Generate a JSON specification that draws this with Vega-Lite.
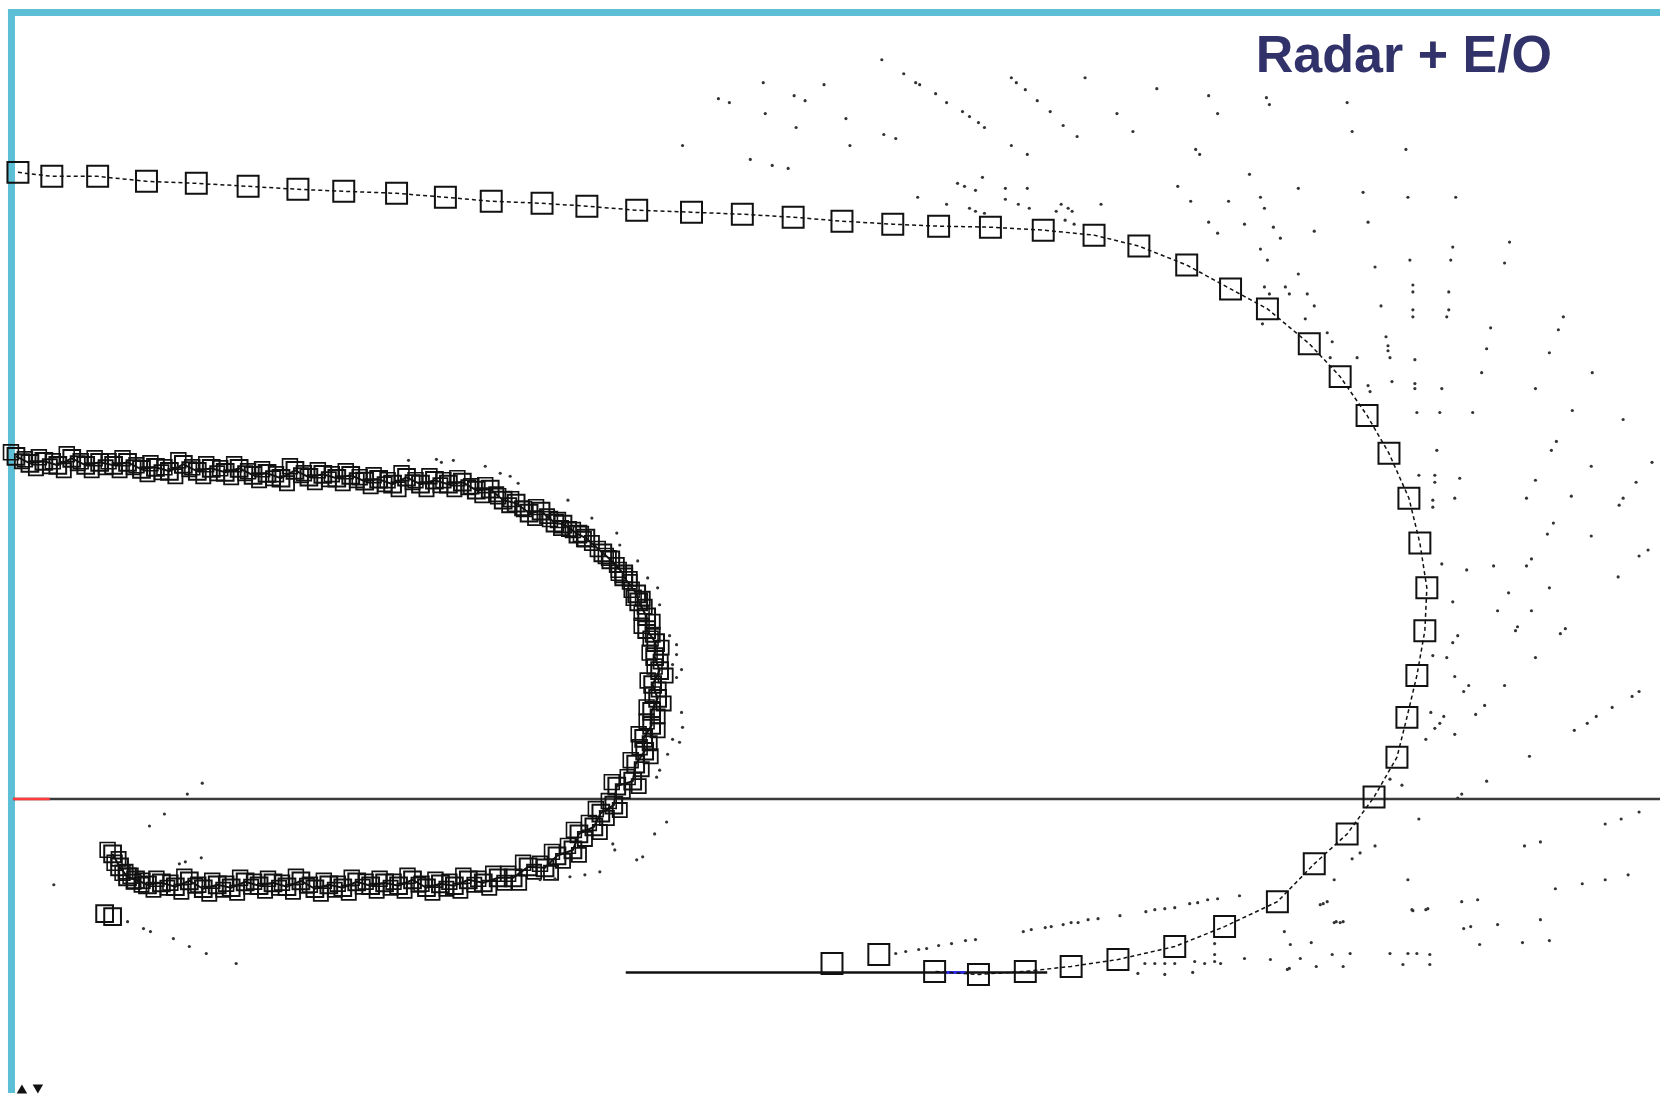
{
  "$schema": "https://vega.github.io/schema/vega-lite/v6.json",
  "width": 1664,
  "height": 1097,
  "autosize": {"type": "fit", "contains": "padding"},
  "padding": 0,
  "background": "white",
  "config": {"view": {"stroke": null}},
  "datasets": {
    "lines": [
      {"part": "baseline", "x": 11, "x2": 1664, "y": 802},
      {"part": "baseline start", "x": 11, "x2": 48, "y": 802},
      {"part": "E/O line", "x": 626, "x2": 1049, "y": 976},
      {"part": "E/O gap", "x": 947, "x2": 967, "y": 976}
    ],
    "outer": [
      {"i": 1, "x": 16, "y": 173}, {"i": 2, "x": 50, "y": 177}, {"i": 3, "x": 96, "y": 177},
      {"i": 4, "x": 145, "y": 182}, {"i": 5, "x": 195, "y": 184}, {"i": 6, "x": 247, "y": 187},
      {"i": 7, "x": 297, "y": 190}, {"i": 8, "x": 343, "y": 192}, {"i": 9, "x": 396, "y": 194},
      {"i": 10, "x": 445, "y": 198}, {"i": 11, "x": 491, "y": 202}, {"i": 12, "x": 542, "y": 204},
      {"i": 13, "x": 587, "y": 207}, {"i": 14, "x": 637, "y": 211}, {"i": 15, "x": 692, "y": 213},
      {"i": 16, "x": 743, "y": 215}, {"i": 17, "x": 794, "y": 218}, {"i": 18, "x": 843, "y": 222},
      {"i": 19, "x": 894, "y": 225}, {"i": 20, "x": 940, "y": 227}, {"i": 21, "x": 992, "y": 228},
      {"i": 22, "x": 1045, "y": 231}, {"i": 23, "x": 1096, "y": 236}, {"i": 24, "x": 1141, "y": 247},
      {"i": 25, "x": 1189, "y": 266}, {"i": 26, "x": 1233, "y": 290}, {"i": 27, "x": 1270, "y": 310},
      {"i": 28, "x": 1312, "y": 345}, {"i": 29, "x": 1343, "y": 378}, {"i": 30, "x": 1370, "y": 417},
      {"i": 31, "x": 1392, "y": 455}, {"i": 32, "x": 1412, "y": 500}, {"i": 33, "x": 1423, "y": 545},
      {"i": 34, "x": 1430, "y": 590}, {"i": 35, "x": 1428, "y": 633}, {"i": 36, "x": 1420, "y": 678},
      {"i": 37, "x": 1410, "y": 720}, {"i": 38, "x": 1400, "y": 760}, {"i": 39, "x": 1377, "y": 800},
      {"i": 40, "x": 1350, "y": 837}, {"i": 41, "x": 1317, "y": 867}, {"i": 42, "x": 1280, "y": 905},
      {"i": 43, "x": 1227, "y": 930}, {"i": 44, "x": 1177, "y": 950}, {"i": 45, "x": 1120, "y": 963},
      {"i": 46, "x": 1073, "y": 970}, {"i": 47, "x": 1027, "y": 975}, {"i": 48, "x": 980, "y": 978},
      {"i": 49, "x": 936, "y": 975}, {"i": 50, "x": 880, "y": 958}, {"i": 51, "x": 833, "y": 967}
    ],
    "inner": [
      {"i": 1, "x": 14, "y": 458}, {"i": 2, "x": 28, "y": 465}, {"i": 3, "x": 42, "y": 463},
      {"i": 4, "x": 56, "y": 467}, {"i": 5, "x": 70, "y": 460}, {"i": 6, "x": 84, "y": 467},
      {"i": 7, "x": 98, "y": 464}, {"i": 8, "x": 112, "y": 467}, {"i": 9, "x": 126, "y": 464},
      {"i": 10, "x": 140, "y": 471}, {"i": 11, "x": 154, "y": 469}, {"i": 12, "x": 168, "y": 473},
      {"i": 13, "x": 182, "y": 466}, {"i": 14, "x": 196, "y": 473}, {"i": 15, "x": 210, "y": 470},
      {"i": 16, "x": 224, "y": 474}, {"i": 17, "x": 238, "y": 470}, {"i": 18, "x": 252, "y": 477},
      {"i": 19, "x": 266, "y": 475}, {"i": 20, "x": 280, "y": 480}, {"i": 21, "x": 294, "y": 472},
      {"i": 22, "x": 308, "y": 479}, {"i": 23, "x": 322, "y": 476}, {"i": 24, "x": 336, "y": 480},
      {"i": 25, "x": 350, "y": 477}, {"i": 26, "x": 364, "y": 483}, {"i": 27, "x": 378, "y": 481},
      {"i": 28, "x": 392, "y": 486}, {"i": 29, "x": 406, "y": 479}, {"i": 30, "x": 420, "y": 486},
      {"i": 31, "x": 434, "y": 482}, {"i": 32, "x": 448, "y": 486}, {"i": 33, "x": 462, "y": 484},
      {"i": 34, "x": 476, "y": 492}, {"i": 35, "x": 490, "y": 491}, {"i": 36, "x": 503, "y": 502},
      {"i": 37, "x": 516, "y": 505}, {"i": 38, "x": 529, "y": 515}, {"i": 39, "x": 541, "y": 513},
      {"i": 40, "x": 555, "y": 525}, {"i": 41, "x": 563, "y": 526}, {"i": 42, "x": 578, "y": 536},
      {"i": 43, "x": 586, "y": 540}, {"i": 44, "x": 603, "y": 555}, {"i": 45, "x": 611, "y": 562},
      {"i": 46, "x": 624, "y": 576}, {"i": 47, "x": 624, "y": 579}, {"i": 48, "x": 637, "y": 596},
      {"i": 49, "x": 639, "y": 604}, {"i": 50, "x": 647, "y": 619}, {"i": 51, "x": 647, "y": 632},
      {"i": 52, "x": 656, "y": 645}, {"i": 53, "x": 655, "y": 659}, {"i": 54, "x": 660, "y": 673},
      {"i": 55, "x": 653, "y": 687}, {"i": 56, "x": 658, "y": 701}, {"i": 57, "x": 652, "y": 714},
      {"i": 58, "x": 652, "y": 728}, {"i": 59, "x": 644, "y": 741}, {"i": 60, "x": 645, "y": 754},
      {"i": 61, "x": 636, "y": 767}, {"i": 62, "x": 633, "y": 784}, {"i": 63, "x": 617, "y": 789},
      {"i": 64, "x": 614, "y": 808}, {"i": 65, "x": 601, "y": 816}, {"i": 66, "x": 594, "y": 830},
      {"i": 67, "x": 579, "y": 837}, {"i": 68, "x": 573, "y": 853}, {"i": 69, "x": 557, "y": 859},
      {"i": 70, "x": 545, "y": 871}, {"i": 71, "x": 528, "y": 870}, {"i": 72, "x": 513, "y": 881},
      {"i": 73, "x": 498, "y": 881}, {"i": 74, "x": 483, "y": 886}, {"i": 75, "x": 468, "y": 883},
      {"i": 76, "x": 454, "y": 889}, {"i": 77, "x": 440, "y": 887}, {"i": 78, "x": 426, "y": 891},
      {"i": 79, "x": 412, "y": 883}, {"i": 80, "x": 398, "y": 889}, {"i": 81, "x": 384, "y": 886},
      {"i": 82, "x": 370, "y": 889}, {"i": 83, "x": 356, "y": 885}, {"i": 84, "x": 342, "y": 891},
      {"i": 85, "x": 328, "y": 888}, {"i": 86, "x": 314, "y": 892}, {"i": 87, "x": 300, "y": 884},
      {"i": 88, "x": 286, "y": 890}, {"i": 89, "x": 272, "y": 886}, {"i": 90, "x": 258, "y": 889},
      {"i": 91, "x": 244, "y": 885}, {"i": 92, "x": 230, "y": 891}, {"i": 93, "x": 216, "y": 888},
      {"i": 94, "x": 202, "y": 892}, {"i": 95, "x": 188, "y": 884}, {"i": 96, "x": 174, "y": 890},
      {"i": 97, "x": 160, "y": 886}, {"i": 98, "x": 146, "y": 888}, {"i": 99, "x": 134, "y": 883},
      {"i": 100, "x": 126, "y": 880}, {"i": 101, "x": 118, "y": 870}, {"i": 102, "x": 111, "y": 857},
      {"i": 103, "x": 103, "y": 917}, {"i": 104, "x": 111, "y": 920}
    ],
    "dots": [
      {"x": 1159, "y": 89}, {"x": 1211, "y": 96}, {"x": 1220, "y": 114}, {"x": 1269, "y": 98}, {"x": 1272, "y": 105},
      {"x": 1350, "y": 103}, {"x": 1355, "y": 132}, {"x": 1409, "y": 150}, {"x": 1198, "y": 150}, {"x": 1202, "y": 155},
      {"x": 1252, "y": 175}, {"x": 1180, "y": 187}, {"x": 1301, "y": 189}, {"x": 1366, "y": 193}, {"x": 1411, "y": 198},
      {"x": 1459, "y": 198}, {"x": 1193, "y": 202}, {"x": 1231, "y": 202}, {"x": 1263, "y": 198}, {"x": 1267, "y": 209},
      {"x": 1211, "y": 223}, {"x": 1247, "y": 225}, {"x": 1276, "y": 228}, {"x": 1371, "y": 223}, {"x": 1220, "y": 234},
      {"x": 1283, "y": 239}, {"x": 1317, "y": 232}, {"x": 1456, "y": 248}, {"x": 1513, "y": 243}, {"x": 1263, "y": 250},
      {"x": 1270, "y": 261}, {"x": 1413, "y": 261}, {"x": 1454, "y": 261}, {"x": 1508, "y": 264}, {"x": 1378, "y": 268},
      {"x": 1301, "y": 275}, {"x": 1416, "y": 286}, {"x": 1416, "y": 293}, {"x": 1452, "y": 293}, {"x": 1267, "y": 288},
      {"x": 1272, "y": 295}, {"x": 1288, "y": 288}, {"x": 1292, "y": 295}, {"x": 1310, "y": 295},
      {"x": 1317, "y": 307}, {"x": 1384, "y": 307}, {"x": 1416, "y": 311}, {"x": 1416, "y": 318}, {"x": 1452, "y": 311},
      {"x": 1450, "y": 318}, {"x": 1567, "y": 318}, {"x": 1562, "y": 331}, {"x": 1494, "y": 329}, {"x": 1490, "y": 350},
      {"x": 1553, "y": 354}, {"x": 1389, "y": 338}, {"x": 1391, "y": 347}, {"x": 1391, "y": 352}, {"x": 1393, "y": 359},
      {"x": 1418, "y": 361}, {"x": 1485, "y": 374}, {"x": 1596, "y": 374}, {"x": 1539, "y": 390}, {"x": 1395, "y": 383},
      {"x": 1418, "y": 385}, {"x": 1418, "y": 390}, {"x": 1445, "y": 390}, {"x": 1576, "y": 412}, {"x": 1627, "y": 421},
      {"x": 1420, "y": 414}, {"x": 1443, "y": 414}, {"x": 1476, "y": 414}, {"x": 1560, "y": 443}, {"x": 1555, "y": 452},
      {"x": 1440, "y": 452}, {"x": 1308, "y": 320}, {"x": 1330, "y": 334}, {"x": 1335, "y": 343}, {"x": 1333, "y": 359},
      {"x": 1360, "y": 359}, {"x": 1371, "y": 387}, {"x": 1373, "y": 393}, {"x": 1265, "y": 325},
      {"x": 1595, "y": 468}, {"x": 1656, "y": 464}, {"x": 1422, "y": 477}, {"x": 1438, "y": 477}, {"x": 1438, "y": 484},
      {"x": 1463, "y": 480}, {"x": 1539, "y": 482}, {"x": 1640, "y": 484}, {"x": 1436, "y": 502}, {"x": 1436, "y": 509},
      {"x": 1458, "y": 500}, {"x": 1530, "y": 500}, {"x": 1575, "y": 498}, {"x": 1623, "y": 507}, {"x": 1627, "y": 500},
      {"x": 1557, "y": 525}, {"x": 1551, "y": 536}, {"x": 1595, "y": 538}, {"x": 1643, "y": 558}, {"x": 1652, "y": 552},
      {"x": 1445, "y": 566}, {"x": 1470, "y": 572}, {"x": 1497, "y": 568}, {"x": 1530, "y": 568}, {"x": 1535, "y": 561},
      {"x": 1622, "y": 579}, {"x": 1553, "y": 590}, {"x": 1512, "y": 595}, {"x": 1456, "y": 604}, {"x": 1501, "y": 613},
      {"x": 1535, "y": 613}, {"x": 1521, "y": 629}, {"x": 1519, "y": 633}, {"x": 1569, "y": 631}, {"x": 1564, "y": 636},
      {"x": 1456, "y": 645}, {"x": 1461, "y": 638}, {"x": 1436, "y": 658}, {"x": 1450, "y": 660}, {"x": 1539, "y": 660},
      {"x": 1458, "y": 679}, {"x": 1472, "y": 688}, {"x": 1467, "y": 694}, {"x": 1508, "y": 688}, {"x": 1643, "y": 694},
      {"x": 1636, "y": 699}, {"x": 1616, "y": 710}, {"x": 1488, "y": 708}, {"x": 1479, "y": 717}, {"x": 1434, "y": 715},
      {"x": 1447, "y": 719}, {"x": 1443, "y": 726}, {"x": 1438, "y": 731}, {"x": 1458, "y": 737}, {"x": 1429, "y": 742},
      {"x": 1600, "y": 719}, {"x": 1591, "y": 726}, {"x": 1578, "y": 733}, {"x": 1533, "y": 759}, {"x": 1490, "y": 784},
      {"x": 1405, "y": 788}, {"x": 1393, "y": 782}, {"x": 1465, "y": 797}, {"x": 1461, "y": 801}, {"x": 1422, "y": 822},
      {"x": 1609, "y": 827}, {"x": 1625, "y": 822}, {"x": 1643, "y": 815}, {"x": 1544, "y": 845}, {"x": 1528, "y": 849},
      {"x": 1378, "y": 849}, {"x": 1363, "y": 856}, {"x": 1355, "y": 862}, {"x": 1337, "y": 883}, {"x": 1411, "y": 883},
      {"x": 1559, "y": 892}, {"x": 1586, "y": 887}, {"x": 1609, "y": 883}, {"x": 1632, "y": 878}, {"x": 1323, "y": 908},
      {"x": 1330, "y": 905}, {"x": 1465, "y": 905}, {"x": 1481, "y": 903}, {"x": 1416, "y": 914}, {"x": 1431, "y": 912},
      {"x": 1337, "y": 926}, {"x": 1343, "y": 926}, {"x": 1467, "y": 932}, {"x": 1474, "y": 930}, {"x": 1501, "y": 928},
      {"x": 1544, "y": 923}, {"x": 1314, "y": 946}, {"x": 1526, "y": 946}, {"x": 1553, "y": 944}, {"x": 1483, "y": 948},
      {"x": 883, "y": 60}, {"x": 905, "y": 74}, {"x": 917, "y": 83}, {"x": 921, "y": 85}, {"x": 937, "y": 94},
      {"x": 948, "y": 103}, {"x": 964, "y": 112}, {"x": 971, "y": 117}, {"x": 980, "y": 123}, {"x": 986, "y": 128},
      {"x": 1013, "y": 78}, {"x": 1018, "y": 83}, {"x": 1027, "y": 90}, {"x": 1039, "y": 101}, {"x": 1052, "y": 112},
      {"x": 1065, "y": 126}, {"x": 1079, "y": 137}, {"x": 1087, "y": 78}, {"x": 1119, "y": 114}, {"x": 1135, "y": 132},
      {"x": 1013, "y": 146}, {"x": 1029, "y": 155}, {"x": 764, "y": 83}, {"x": 825, "y": 85}, {"x": 719, "y": 99},
      {"x": 730, "y": 103}, {"x": 795, "y": 96}, {"x": 806, "y": 101}, {"x": 766, "y": 114}, {"x": 847, "y": 119},
      {"x": 797, "y": 128}, {"x": 885, "y": 135}, {"x": 897, "y": 139}, {"x": 683, "y": 146}, {"x": 851, "y": 146},
      {"x": 751, "y": 160}, {"x": 773, "y": 166}, {"x": 789, "y": 169}, {"x": 984, "y": 178}, {"x": 959, "y": 184},
      {"x": 966, "y": 187}, {"x": 977, "y": 191}, {"x": 1007, "y": 189}, {"x": 1029, "y": 189}, {"x": 919, "y": 198},
      {"x": 1007, "y": 200}, {"x": 1020, "y": 205}, {"x": 948, "y": 205}, {"x": 1031, "y": 209}, {"x": 971, "y": 209},
      {"x": 977, "y": 212}, {"x": 986, "y": 214}, {"x": 1063, "y": 205}, {"x": 1070, "y": 209}, {"x": 1074, "y": 212},
      {"x": 1058, "y": 212}, {"x": 1067, "y": 221}, {"x": 1076, "y": 225}, {"x": 1103, "y": 205},
      {"x": 1025, "y": 935}, {"x": 1033, "y": 933}, {"x": 1047, "y": 931}, {"x": 1053, "y": 930}, {"x": 1065, "y": 928},
      {"x": 1073, "y": 926}, {"x": 1080, "y": 926}, {"x": 1090, "y": 923}, {"x": 1100, "y": 922}, {"x": 1122, "y": 919},
      {"x": 1148, "y": 915}, {"x": 1157, "y": 913}, {"x": 1167, "y": 912}, {"x": 1177, "y": 911}, {"x": 1192, "y": 907},
      {"x": 1200, "y": 906}, {"x": 1210, "y": 903}, {"x": 1220, "y": 902}, {"x": 1242, "y": 899}, {"x": 897, "y": 957},
      {"x": 907, "y": 955}, {"x": 920, "y": 953}, {"x": 928, "y": 952}, {"x": 940, "y": 949}, {"x": 953, "y": 947},
      {"x": 967, "y": 944}, {"x": 977, "y": 943}, {"x": 1147, "y": 967}, {"x": 1157, "y": 967}, {"x": 1167, "y": 967},
      {"x": 1177, "y": 967}, {"x": 1140, "y": 977}, {"x": 1167, "y": 978}, {"x": 1197, "y": 965}, {"x": 1207, "y": 967},
      {"x": 1217, "y": 965}, {"x": 1223, "y": 967}, {"x": 1195, "y": 976}, {"x": 1247, "y": 962}, {"x": 1273, "y": 963},
      {"x": 1290, "y": 973}, {"x": 1303, "y": 962}, {"x": 1293, "y": 948}, {"x": 1287, "y": 935}, {"x": 1217, "y": 947},
      {"x": 1217, "y": 958}, {"x": 1335, "y": 958}, {"x": 1353, "y": 957}, {"x": 1393, "y": 957}, {"x": 1411, "y": 957},
      {"x": 1420, "y": 957}, {"x": 1433, "y": 958}, {"x": 1406, "y": 968}, {"x": 1433, "y": 968}, {"x": 1415, "y": 913},
      {"x": 1429, "y": 913}, {"x": 1326, "y": 907}, {"x": 1339, "y": 925}, {"x": 1346, "y": 925}, {"x": 1292, "y": 972},
      {"x": 1319, "y": 970}, {"x": 1346, "y": 970},
      {"x": 408, "y": 462}, {"x": 453, "y": 462}, {"x": 436, "y": 461}, {"x": 441, "y": 464}, {"x": 485, "y": 468},
      {"x": 500, "y": 475}, {"x": 510, "y": 478}, {"x": 518, "y": 485}, {"x": 568, "y": 502}, {"x": 592, "y": 520},
      {"x": 617, "y": 535}, {"x": 620, "y": 547}, {"x": 638, "y": 563}, {"x": 648, "y": 580}, {"x": 658, "y": 590},
      {"x": 660, "y": 607}, {"x": 670, "y": 638}, {"x": 677, "y": 647}, {"x": 677, "y": 657}, {"x": 673, "y": 667},
      {"x": 682, "y": 672}, {"x": 677, "y": 680}, {"x": 682, "y": 715}, {"x": 683, "y": 730}, {"x": 673, "y": 742},
      {"x": 680, "y": 745}, {"x": 668, "y": 757}, {"x": 660, "y": 773}, {"x": 657, "y": 780}, {"x": 667, "y": 825},
      {"x": 655, "y": 837}, {"x": 643, "y": 860}, {"x": 637, "y": 863}, {"x": 613, "y": 847}, {"x": 615, "y": 853},
      {"x": 540, "y": 883}, {"x": 555, "y": 882}, {"x": 570, "y": 880}, {"x": 585, "y": 878}, {"x": 600, "y": 875},
      {"x": 52, "y": 888}, {"x": 126, "y": 925}, {"x": 142, "y": 932}, {"x": 149, "y": 935}, {"x": 172, "y": 942},
      {"x": 188, "y": 950}, {"x": 205, "y": 957}, {"x": 235, "y": 967}, {"x": 201, "y": 786}, {"x": 186, "y": 797},
      {"x": 163, "y": 817}, {"x": 148, "y": 829}, {"x": 178, "y": 867}, {"x": 184, "y": 865}, {"x": 200, "y": 861}
    ],
    "markers": [
      {"dir": "up", "x": 20, "y": 1093},
      {"dir": "down", "x": 36, "y": 1093}
    ],
    "frame": [
      {"side": "left", "x": 9.5, "x2": 9.5, "y": 9, "y2": 1097},
      {"side": "top", "x": 6, "x2": 1664, "y": 12.5, "y2": 12.5}
    ],
    "label": [
      {"text": "Radar + E/O", "x": 1407, "y": 72}
    ]
  },
  "layer": [
    {
      "data": {"name": "frame"},
      "mark": {"type": "rule", "color": "#5cbfd5", "strokeWidth": 7},
      "encoding": {
        "x": {"field": "x", "type": "quantitative", "scale": {"domain": [0, 1664], "nice": false, "zero": false}, "axis": null},
        "x2": {"field": "x2"},
        "y": {"field": "y", "type": "quantitative", "scale": {"domain": [0, 1097], "nice": false, "zero": false, "reverse": true}, "axis": null},
        "y2": {"field": "y2"}
      }
    },
    {
      "data": {"name": "lines"},
      "mark": {"type": "rule", "strokeWidth": 2.5},
      "encoding": {
        "x": {"field": "x", "type": "quantitative", "scale": {"domain": [0, 1664], "nice": false, "zero": false}, "axis": null},
        "x2": {"field": "x2"},
        "y": {"field": "y", "type": "quantitative", "scale": {"domain": [0, 1097], "nice": false, "zero": false, "reverse": true}, "axis": null},
        "color": {"field": "part", "type": "nominal", "legend": null,
          "scale": {"domain": ["baseline", "baseline start", "E/O line", "E/O gap"], "range": ["#3a3a3a", "#ff3b3b", "#111111", "#2a2aff"]}}
      }
    },
    {
      "data": {"name": "outer"},
      "transform": [{"filter": "datum.i <= 49"}],
      "mark": {"type": "line", "color": "#111111", "strokeWidth": 1.5, "strokeDash": [4, 3]},
      "encoding": {
        "x": {"field": "x", "type": "quantitative", "scale": {"domain": [0, 1664], "nice": false, "zero": false}, "axis": null},
        "y": {"field": "y", "type": "quantitative", "scale": {"domain": [0, 1097], "nice": false, "zero": false, "reverse": true}, "axis": null},
        "order": {"field": "i", "type": "quantitative"}
      }
    },
    {
      "data": {"name": "outer"},
      "mark": {"type": "point", "shape": "square", "filled": false, "color": "#111111", "strokeWidth": 2, "size": 440, "opacity": 1},
      "encoding": {
        "x": {"field": "x", "type": "quantitative", "scale": {"domain": [0, 1664], "nice": false, "zero": false}, "axis": null},
        "y": {"field": "y", "type": "quantitative", "scale": {"domain": [0, 1097], "nice": false, "zero": false, "reverse": true}, "axis": null}
      }
    },
    {
      "data": {"name": "inner"},
      "transform": [{"filter": "datum.i <= 102"}],
      "mark": {"type": "line", "color": "#111111", "strokeWidth": 2},
      "encoding": {
        "x": {"field": "x", "type": "quantitative", "scale": {"domain": [0, 1664], "nice": false, "zero": false}, "axis": null},
        "y": {"field": "y", "type": "quantitative", "scale": {"domain": [0, 1097], "nice": false, "zero": false, "reverse": true}, "axis": null},
        "order": {"field": "i", "type": "quantitative"}
      }
    },
    {
      "data": {"name": "inner"},
      "mark": {"type": "point", "shape": "square", "filled": false, "color": "#111111", "strokeWidth": 2, "size": 280, "opacity": 1},
      "encoding": {
        "x": {"field": "x", "type": "quantitative", "scale": {"domain": [0, 1664], "nice": false, "zero": false}, "axis": null},
        "y": {"field": "y", "type": "quantitative", "scale": {"domain": [0, 1097], "nice": false, "zero": false, "reverse": true}, "axis": null}
      }
    },
    {
      "data": {"name": "inner"},
      "transform": [{"filter": "datum.i <= 102"}],
      "mark": {"type": "point", "shape": "square", "filled": false, "color": "#111111", "strokeWidth": 1.8, "size": 200, "opacity": 1, "xOffset": 6, "yOffset": 5},
      "encoding": {
        "x": {"field": "x", "type": "quantitative", "scale": {"domain": [0, 1664], "nice": false, "zero": false}, "axis": null},
        "y": {"field": "y", "type": "quantitative", "scale": {"domain": [0, 1097], "nice": false, "zero": false, "reverse": true}, "axis": null}
      }
    },
    {
      "data": {"name": "inner"},
      "transform": [{"filter": "datum.i <= 102"}],
      "mark": {"type": "point", "shape": "square", "filled": false, "color": "#111111", "strokeWidth": 1.6, "size": 220, "opacity": 1, "xOffset": -5, "yOffset": -4},
      "encoding": {
        "x": {"field": "x", "type": "quantitative", "scale": {"domain": [0, 1664], "nice": false, "zero": false}, "axis": null},
        "y": {"field": "y", "type": "quantitative", "scale": {"domain": [0, 1097], "nice": false, "zero": false, "reverse": true}, "axis": null}
      }
    },
    {
      "data": {"name": "dots"},
      "mark": {"type": "circle", "color": "#333333", "size": 10, "opacity": 1},
      "encoding": {
        "x": {"field": "x", "type": "quantitative", "scale": {"domain": [0, 1664], "nice": false, "zero": false}, "axis": null},
        "y": {"field": "y", "type": "quantitative", "scale": {"domain": [0, 1097], "nice": false, "zero": false, "reverse": true}, "axis": null}
      }
    },
    {
      "data": {"name": "markers"},
      "mark": {"type": "point", "filled": true, "color": "#111111", "size": 110, "opacity": 1},
      "encoding": {
        "x": {"field": "x", "type": "quantitative", "scale": {"domain": [0, 1664], "nice": false, "zero": false}, "axis": null},
        "y": {"field": "y", "type": "quantitative", "scale": {"domain": [0, 1097], "nice": false, "zero": false, "reverse": true}, "axis": null},
        "shape": {"field": "dir", "type": "nominal", "legend": null, "scale": {"domain": ["up", "down"], "range": ["triangle-up", "triangle-down"]}}
      }
    },
    {
      "data": {"name": "label"},
      "mark": {"type": "text", "font": "Liberation Sans", "fontWeight": "bold", "fontSize": 52, "color": "#32326a", "align": "center", "baseline": "alphabetic"},
      "encoding": {
        "text": {"field": "text"},
        "x": {"field": "x", "type": "quantitative", "scale": {"domain": [0, 1664], "nice": false, "zero": false}, "axis": null},
        "y": {"field": "y", "type": "quantitative", "scale": {"domain": [0, 1097], "nice": false, "zero": false, "reverse": true}, "axis": null}
      }
    }
  ]
}
